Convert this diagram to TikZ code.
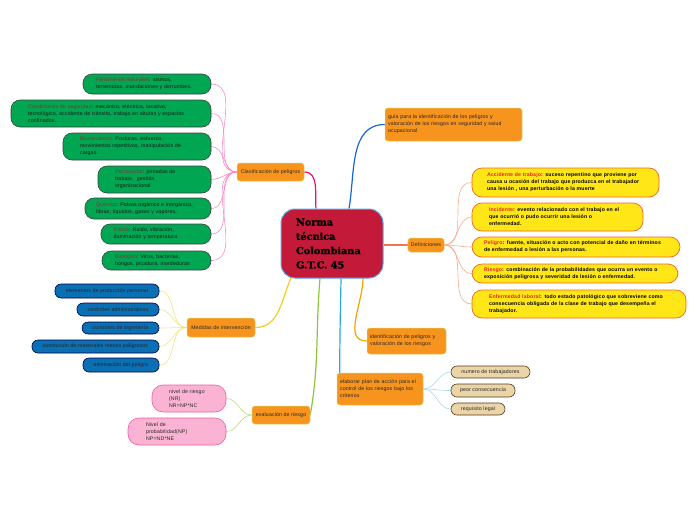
\documentclass[tikz,border=0pt]{standalone}
\usepackage{fontspec}
\setmainfont{Liberation Sans}[LetterSpace=3]
\newfontfamily\titlefont{DejaVu Serif}[BoldFeatures={FakeBold=1.6}]
\usetikzlibrary{backgrounds,calc}
\definecolor{cOrange}{HTML}{F7941D}
\definecolor{cOrangeEdge}{HTML}{DDCF5E}
\definecolor{cRoot}{HTML}{C41A3A}
\definecolor{cRootEdge}{HTML}{5AA7E6}
\definecolor{cGreen}{HTML}{00A651}
\definecolor{cGreenLab}{HTML}{8B2C3A}
\definecolor{cBlue}{HTML}{0A6FB3}
\definecolor{cPink}{HTML}{FBB3D3}
\definecolor{cPinkEdge}{HTML}{EE5FA0}
\definecolor{cYellow}{HTML}{FFE617}
\definecolor{cYellowEdge}{HTML}{F0642A}
\definecolor{cYelLab}{HTML}{E5232A}
\definecolor{cTan}{HTML}{E9D5A7}
\newcommand{\mapsize}{\fontsize{5.2}{7}\selectfont}
\newcommand{\glab}[1]{\textcolor{cGreenLab}{#1}}
\newcommand{\ylab}[1]{\textcolor{cYelLab}{#1}}
\tikzset{
  every picture/.style={line width=0.6pt},
  topic/.style={draw=cOrangeEdge, fill=cOrange, rounded corners=3pt, line width=0.5pt,
                font=\mapsize, text=black!85, inner xsep=3pt, inner ysep=2pt},
  rootbox/.style={draw=cRootEdge, fill=cRoot, rounded corners=14pt, line width=1pt,
                  font=\titlefont\bfseries\fontsize{9.7}{14.3}\selectfont, align=left,
                  inner xsep=15pt},
  gleaf/.style={draw=black!75, fill=cGreen, rounded corners=9pt, font=\mapsize,
                align=left, text=black!90},
  bleaf/.style={draw=black!70!blue, fill=cBlue, rounded corners=6pt, font=\mapsize,
                text=black!85, inner sep=1pt},
  pleaf/.style={draw=cPinkEdge, fill=cPink, rounded corners=11pt, font=\mapsize,
                align=left, text=black!85},
  yleaf/.style={draw=cYellowEdge, fill=cYellow, rounded corners=10pt, line width=0.7pt,
                font=\mapsize\bfseries, align=left},
  tleaf/.style={draw=black!55!brown, fill=cTan, rounded corners=6pt, font=\mapsize,
                text=black!85, inner sep=1pt},
  brPink/.style={draw={rgb,255:red,232;green,16;blue,110}, line width=1.2pt},
  twPink/.style={draw={rgb,255:red,245;green,140;blue,196}, line width=0.6pt},
  brBlue/.style={draw={rgb,255:red,20;green,102;blue,214}, line width=1.2pt},
  brCoral/.style={draw={rgb,255:red,242;green,115;blue,86}, line width=1.2pt},
  twCoral/.style={draw={rgb,255:red,247;green,169;blue,140}, line width=0.6pt},
  brYellow/.style={draw={rgb,255:red,242;green,207;blue,31}, line width=1.2pt},
  twYellow/.style={draw={rgb,255:red,246;green,226;blue,124}, line width=0.6pt},
  brGreen/.style={draw={rgb,255:red,140;green,196;blue,63}, line width=1.2pt},
  twGreen/.style={draw={rgb,255:red,188;green,217;blue,133}, line width=0.6pt},
  brSky/.style={draw={rgb,255:red,41;green,168;blue,224}, line width=1.2pt},
  twSky/.style={draw={rgb,255:red,165;green,218;blue,244}, line width=0.6pt},
  brGold/.style={draw={rgb,255:red,245;green,163;blue,0}, line width=1.2pt},
}

\begin{document}
\begin{tikzpicture}[x=1pt,y=-1pt]
  \useasboundingbox (0,0) rectangle (696,520);
  % centre
  \node[rootbox, minimum width=102, minimum height=69, text width=72] (gtc) at (332,243.5)
        {Norma\\técnica\\Colombiana\\G.T.C. 45};

  % clasificacion de peligros
  \node[topic, minimum width=67, minimum height=18] (clas) at (270.5,172) {Clasificación de peligros};
  \node[gleaf, minimum width=128, minimum height=20, inner xsep=13pt, text width=102] (fen) at (147,84)
        {\glab{Fenómenos naturales}: sismos,\\terremotos, inundaciones y derrumbes.};
  \node[gleaf, minimum width=200, minimum height=27, inner xsep=17pt, text width=166] (cond) at (111,113.5)
        {\glab{Condiciones de seguridad}: mecánico, eléctrico, locativo,\\tecnológico, accidente de tránsito, trabajo en alturas y espacios\\confinados.};
  \node[gleaf, minimum width=148, minimum height=27, inner xsep=17pt, text width=114] (bio) at (137,146.5)
        {\glab{Biomecánico}: Posturas, esfuerzo,\\movimientos repetitivos, manipulación de\\cargas.};
  \node[gleaf, minimum width=113, minimum height=27, inner xsep=17pt, text width=79] (psi) at (154.5,179.5)
        {\glab{Psicosocial}: jornadas de\\trabajo,\ \ gestión\\organizacional};
  \node[gleaf, minimum width=126, minimum height=21, inner xsep=11pt, text width=104] (qui) at (148,208.5)
        {\glab{Químico}: Polvos orgánico e inorgánico,\\fibras, líquidos, gases y vapores,};
  \node[gleaf, minimum width=110, minimum height=20, inner xsep=13pt, text width=84] (fis) at (156,234)
        {\glab{Físico}: Ruido, vibración,\\iluminación y temperatura};
  \node[gleaf, minimum width=109, minimum height=19, inner xsep=13pt, text width=83] (biol) at (156.5,260.5)
        {\glab{Biológico}:\ Virus, bacterias,\\hongos, picadura, mordeduras};

  % medidas de intervencion
  \node[topic, minimum width=68, minimum height=19] (med) at (221,327.5) {Medidas de intervención};
  \node[bleaf, minimum width=104, minimum height=14] (epp) at (107,291) {elementos de protección personal};
  \node[bleaf, minimum width=82, minimum height=13] (adm) at (118,309.5) {controles administrativos};
  \node[bleaf, minimum width=77, minimum height=12] (ing) at (120.5,328) {controles de ingeniería};
  \node[bleaf, minimum width=127, minimum height=13] (sus) at (95.5,346.5) {sustitución de materiales menos peligrosos};
  \node[bleaf, minimum width=76, minimum height=14] (eli) at (121,365) {eliminación del peligro};

  % evaluacion de riesgo
  \node[topic, minimum width=58, minimum height=18] (ev) at (281,415) {evaluación de riesgo};
  \node[pleaf, minimum width=74, minimum height=27, inner xsep=17pt, text width=40] (nr) at (189,398.5)
        {nivel de riesgo\\(NR)\\NR=NP*NC};
  \node[pleaf, minimum width=98, minimum height=27, inner xsep=18pt, text width=62] (np) at (177,431.5)
        {Nivel de\\probabilidad(NP)\\NP=ND*NE};

  % right side
  \node[topic, minimum width=137, minimum height=33, align=left, text width=131] (guia) at (453.5,124.5)
        {guía para la identificación de los peligros y\\valoración de los riesgos en seguridad y salud\\ocupacional};
  \node[topic, minimum width=36, minimum height=14] (defi) at (426,245) {Definiciones};
  \node[yleaf, minimum width=187, minimum height=29, inner xsep=15pt, text width=157] (acc) at (565.5,182.5)
        {\ylab{Accidente de trabajo}: suceso repentino que proviene por\\causa u ocasión del trabajo que produzca en el trabajador\\una lesión , una perturbación o la muerte};
  \node[yleaf, minimum width=171, minimum height=28, inner xsep=17pt, text width=137] (inc) at (557.5,217)
        {\ylab{Incidente}: evento relacionado con el trabajo en el\\que ocurrió o pudo ocurrir una lesión o\\enfermedad.};
  \node[yleaf, minimum width=208, minimum height=20, inner xsep=12pt, text width=184] (pel) at (576,247)
        {\ylab{Peligro}: fuente, situación o acto con potencial de daño en términos\\de enfermedad o lesión a las personas.};
  \node[yleaf, minimum width=206, minimum height=19, inner xsep=12pt, text width=182] (rie) at (575,273.5)
        {\ylab{Riesgo}: combinación de la probabilidades que ocurra un evento o\\exposición peligrosa y severidad de lesión o enfermedad.};
  \node[yleaf, minimum width=214, minimum height=28, inner xsep=17pt, text width=180] (enf) at (579,304)
        {\ylab{Enfermedad laboral}: todo estado patológico que sobreviene como\\consecuencia obligada de la clase de trabajo que desempeña el\\trabajador.};
  \node[topic, minimum width=79, minimum height=26, align=left, text width=73] (idf) at (406.5,341)
        {identificación de peligros y\\valoración de los riesgos};
  \node[topic, minimum width=86, minimum height=32, align=left, text width=80] (ela) at (380,389)
        {elaborar plan de acción para el\\control de los riesgos bajo los\\criterios};
  \node[tleaf, minimum width=79, minimum height=12] (ntr) at (490.5,372) {numero de trabajadores};
  \node[tleaf, minimum width=64, minimum height=13] (pcon) at (483,390.5) {peor consecuencia};
  \node[tleaf, minimum width=54, minimum height=12] (rleg) at (478,409) {requisito legal};

  \begin{scope}[on background layer]
    \draw[brPink] ([xshift=-16pt]gtc.north) to[out=95,in=0] (clas.east);
    \draw[brBlue] ([xshift=17pt]gtc.north) to[out=80,in=180] (guia.west);
    \draw[brCoral] (defi.west -| gtc.east) -- (defi.west);
    \draw[brYellow] (med.east) to[out=0,in=-115] ([xshift=-40pt,yshift=3pt]gtc.south);
    \draw[brGreen] (ev.east) to[out=80,in=-95] ([xshift=-12pt]gtc.south);
    \draw[brSky] ([xshift=9pt]gtc.south) to[out=-91,in=90] ([xshift=3pt]ela.north west);
    \draw[brGold] ([xshift=31pt]gtc.south) to[out=-90,in=180] (idf.west);
    \foreach \n in {fen,cond,bio,psi,qui,fis,biol}
      \draw[twPink] (clas.west) to[out=180,in=0] (\n.east);
    \foreach \n in {epp,adm,ing,sus,eli}
      \draw[twYellow] (med.west) to[out=180,in=0] (\n.east);
    \foreach \n in {nr,np}
      \draw[twGreen] (ev.west) to[out=180,in=0] (\n.east);
    \foreach \n in {acc,inc,pel,rie,enf}
      \draw[twCoral] (defi.east) to[out=0,in=180] (\n.west);
    \foreach \n in {ntr,pcon,rleg}
      \draw[twSky] (ela.east) to[out=0,in=180] (\n.west);
  \end{scope}
\end{tikzpicture}
\end{document}
